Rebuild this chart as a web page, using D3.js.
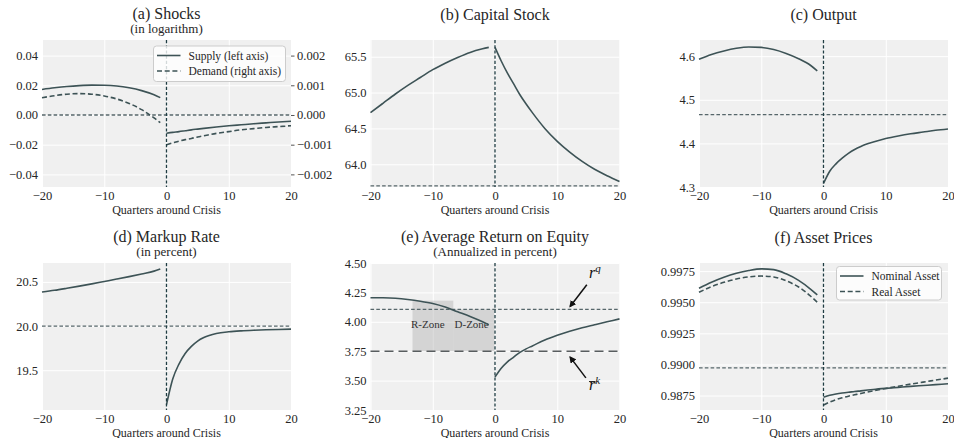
<!DOCTYPE html>
<html>
<head>
<meta charset="utf-8">
<script src="https://cdn.jsdelivr.net/npm/d3@7"></script>
<style>
  html, body { margin: 0; padding: 0; background: #ffffff; }
  svg { display: block; }
</style>
</head>
<body>
<svg id="fig" width="954" height="438"></svg>
<script>
// ---------------------------------------------------------------
// Data: quarters around the crisis (pre-crisis path and post-crisis path)
// ---------------------------------------------------------------
const preQ  = [-20, -18, -16, -14, -12, -10, -8, -6, -4, -2, -1];
const postQ = [0, 1, 2, 3, 4, 5, 6, 8, 10, 12, 14, 16, 18, 20];
const xTicks = [-20, -10, 0, 10, 20];

// (a) Shocks, in logarithm
const supplyPre   = [0.0172, 0.0183, 0.0192, 0.0198, 0.0201, 0.0200, 0.0195, 0.0183, 0.0164, 0.0136, 0.0117];
const supplyPost  = [-0.0123, -0.0117, -0.0112, -0.0106, -0.0100, -0.0095, -0.0090, -0.0081, -0.0073, -0.0066, -0.0059, -0.0053, -0.0047, -0.0042];
const demandPre   = [0.00058, 0.00065, 0.00070, 0.00072, 0.00070, 0.00064, 0.00054, 0.00039, 0.00018, -0.00010, -0.00026];
const demandPost  = [-0.00100, -0.00094, -0.00088, -0.00083, -0.00079, -0.00074, -0.00070, -0.00062, -0.00056, -0.00050, -0.00046, -0.00042, -0.00039, -0.00036];
const shockLeftTicks  = [-0.04, -0.02, 0, 0.02, 0.04];
const shockRightTicks = [-0.002, -0.001, 0, 0.001, 0.002];
const shockLegend = ["Supply (left axis)", "Demand (right axis)"];

// (b) Capital stock
const capitalPre  = [64.72, 64.85, 64.98, 65.10, 65.21, 65.32, 65.41, 65.49, 65.56, 65.61, 65.63];
const capitalPost = [65.63, 65.44, 65.27, 65.12, 64.97, 64.84, 64.72, 64.50, 64.32, 64.17, 64.04, 63.93, 63.84, 63.76];
const capitalSS   = 63.70;
const capitalTicks = [64.0, 64.5, 65.0, 65.5];

// (c) Output
const outputPre  = [4.593, 4.604, 4.612, 4.618, 4.621, 4.620, 4.615, 4.606, 4.594, 4.578, 4.566];
const outputPost = [4.308, 4.336, 4.353, 4.366, 4.377, 4.386, 4.393, 4.403, 4.411, 4.417, 4.422, 4.426, 4.430, 4.433];
const outputSS   = 4.466;
const outputTicks = [4.3, 4.4, 4.5, 4.6];

// (d) Markup rate, in percent
const markupPre  = [20.385, 20.405, 20.428, 20.452, 20.478, 20.505, 20.532, 20.560, 20.590, 20.622, 20.645];
const markupPost = [19.11, 19.40, 19.57, 19.69, 19.77, 19.83, 19.87, 19.915, 19.935, 19.946, 19.953, 19.958, 19.962, 19.965];
const markupSS   = 20.0;
const markupTicks = [19.5, 20.0, 20.5];

// (e) Average return on equity, annualized in percent
const roePre  = [4.205, 4.204, 4.200, 4.190, 4.175, 4.155, 4.125, 4.085, 4.045, 4.000, 3.975];
const roePost = [3.53, 3.605, 3.66, 3.70, 3.74, 3.77, 3.795, 3.845, 3.885, 3.92, 3.95, 3.975, 4.00, 4.025];
const rq = 4.105;
const rk = 3.75;
const roeTicks = [3.25, 3.50, 3.75, 4.00, 4.25, 4.50];
const zoneNames = ["R-Zone", "D-Zone"];
const zoneStart = [-13.25, -6.7];
const zoneEnd   = [-6.7, -0.15];
const zoneTop   = [4.18, rq];
const zoneLabelX = [-10.8, -3.75];

// (f) Asset prices
const nominalPre  = [0.99612, 0.99660, 0.99700, 0.99732, 0.99755, 0.99768, 0.99762, 0.99728, 0.99675, 0.99602, 0.99559];
const nominalPost = [0.98736, 0.98752, 0.98763, 0.98771, 0.98777, 0.98782, 0.98788, 0.98799, 0.98808, 0.98816, 0.98824, 0.98831, 0.98838, 0.98845];
const realPre     = [0.99580, 0.99625, 0.99660, 0.99686, 0.99703, 0.99710, 0.99703, 0.99672, 0.99622, 0.99546, 0.99500];
const realPost    = [0.98674, 0.98698, 0.98717, 0.98732, 0.98745, 0.98756, 0.98767, 0.98788, 0.98807, 0.98825, 0.98842, 0.98858, 0.98874, 0.98890];
const assetSS     = 0.98972;
const assetTicks  = [0.9875, 0.9900, 0.9925, 0.9950, 0.9975];
const assetLegend = ["Nominal Asset", "Real Asset"];

// ---------------------------------------------------------------
// Styling and layout
// ---------------------------------------------------------------
const SERIF = "'Liberation Serif', 'DejaVu Serif', serif";
const PW = 249, PH = 147;
const LINE = "#3d5356";
const REF = "#56666a";
const VREF = "#1f3c42";
const BG = "#f0f0f0";
const TEXT = "#262626";

const svg = d3.select("#fig");
svg.append("rect").attr("width", 954).attr("height", 438).attr("fill", "#ffffff");

const defs = svg.append("defs");
defs.append("marker")
  .attr("id", "arrowHead")
  .attr("viewBox", "0 0 10 10")
  .attr("refX", 8).attr("refY", 5)
  .attr("markerWidth", 7).attr("markerHeight", 7)
  .attr("markerUnits", "userSpaceOnUse")
  .attr("orient", "auto")
  .append("path").attr("d", "M0,0 L10,5 L0,10 z").attr("fill", "#111");

function pts(xs, ys) { return xs.map((q, i) => [q, ys[i]]); }

function panel(left, top, yDomain, yTicks, yFmt) {
  const g = svg.append("g");
  const x = d3.scaleLinear().domain([-20, 20]).range([left, left + PW]);
  const y = d3.scaleLinear().domain(yDomain).range([top + PH, top]);

  g.append("rect").attr("x", left).attr("y", top).attr("width", PW).attr("height", PH).attr("fill", BG);

  // white grid
  g.append("g").attr("transform", `translate(0,${top + PH})`)
    .call(d3.axisBottom(x).tickValues(xTicks).tickSize(-PH).tickFormat(""))
    .call(a => { a.select(".domain").remove(); a.selectAll("line").attr("stroke", "#ffffff").attr("stroke-width", 1); });
  g.append("g").attr("transform", `translate(${left},0)`)
    .call(d3.axisLeft(y).tickValues(yTicks).tickSize(-PW).tickFormat(""))
    .call(a => { a.select(".domain").remove(); a.selectAll("line").attr("stroke", "#ffffff").attr("stroke-width", 1); });

  const layer = g.append("g");

  // tick labels
  g.append("g").attr("transform", `translate(0,${top + PH})`)
    .call(d3.axisBottom(x).tickValues(xTicks).tickSize(0).tickPadding(4).tickFormat(d3.format("d")))
    .attr("font-family", SERIF).attr("font-size", 12.5)
    .call(a => { a.select(".domain").remove(); a.selectAll("text").attr("fill", TEXT); });
  g.append("g").attr("transform", `translate(${left},0)`)
    .call(d3.axisLeft(y).tickValues(yTicks).tickSize(0).tickPadding(4).tickFormat(d3.format(yFmt)))
    .attr("font-family", SERIF).attr("font-size", 12.5)
    .call(a => { a.select(".domain").remove(); a.selectAll("text").attr("fill", TEXT); });

  // x-axis title
  g.append("text").attr("x", left + PW / 2).attr("y", top + PH + 26.5)
    .attr("text-anchor", "middle").attr("font-family", SERIF).attr("font-size", 12).attr("fill", TEXT)
    .text("Quarters around Crisis");

  return { g: layer, x, y, left, top };
}

function title(p, main, sub) {
  const cx = p.left + PW / 2;
  if (sub) {
    svg.append("text").attr("x", cx).attr("y", p.top - 21.5).attr("text-anchor", "middle")
      .attr("font-family", SERIF).attr("font-size", 16).attr("fill", TEXT).text(main);
    svg.append("text").attr("x", cx).attr("y", p.top - 7).attr("text-anchor", "middle")
      .attr("font-family", SERIF).attr("font-size", 13).attr("fill", TEXT).text(sub);
  } else {
    svg.append("text").attr("x", cx).attr("y", p.top - 20).attr("text-anchor", "middle")
      .attr("font-family", SERIF).attr("font-size", 16).attr("fill", TEXT).text(main);
  }
}

function curve(p, data, yScale, dash) {
  const ys = yScale || p.y;
  const line = d3.line().x(d => p.x(d[0])).y(d => ys(d[1])).curve(d3.curveMonotoneX);
  p.g.append("path").datum(data).attr("d", line)
    .attr("fill", "none").attr("stroke", LINE).attr("stroke-width", 1.6)
    .attr("stroke-dasharray", dash || null).attr("stroke-linecap", "butt");
}

function hRef(p, v, opts) {
  const o = opts || {};
  p.g.append("line")
    .attr("x1", p.x(-20)).attr("x2", p.x(20)).attr("y1", p.y(v)).attr("y2", p.y(v))
    .attr("stroke", o.color || REF).attr("stroke-width", o.width || 1.3)
    .attr("stroke-dasharray", o.dash || "3.6,2.2");
}

function vRef(p) {
  p.g.append("line")
    .attr("x1", p.x(0)).attr("x2", p.x(0)).attr("y1", p.top).attr("y2", p.top + PH)
    .attr("stroke", VREF).attr("stroke-width", 1.3).attr("stroke-dasharray", "3.2,2");
}

function legend(p, bx, by, bw, bh, labels) {
  const lg = svg.append("g");
  lg.append("rect").attr("x", bx).attr("y", by).attr("width", bw).attr("height", bh).attr("rx", 3)
    .attr("fill", "#ffffff").attr("fill-opacity", 0.8).attr("stroke", "#cccccc").attr("stroke-width", 1);
  labels.forEach((lab, i) => {
    const yy = by + 9.5 + i * 15.5;
    lg.append("line").attr("x1", bx + 3.5).attr("x2", bx + 27).attr("y1", yy).attr("y2", yy)
      .attr("stroke", LINE).attr("stroke-width", 1.6).attr("stroke-dasharray", i === 1 ? "5,2.7" : null);
    lg.append("text").attr("x", bx + 35).attr("y", yy + 4)
      .attr("font-family", SERIF).attr("font-size", 11.5).attr("fill", TEXT).text(lab);
  });
}

const rowTop = [40, 263];
const colLeft = [42, 370.5, 699];

// ---------------------------------------------------------------
// (a) Shocks
// ---------------------------------------------------------------
{
  const p = panel(colLeft[0], rowTop[0], [-0.0485, 0.0505], shockLeftTicks, ".2f");
  const yR = d3.scaleLinear().domain([-0.0485 / 20, 0.0505 / 20]).range([p.top + PH, p.top]);
  hRef(p, 0);
  curve(p, pts(preQ, supplyPre));
  curve(p, pts(postQ, supplyPost));
  curve(p, pts(preQ, demandPre), yR, "5,2.7");
  curve(p, pts(postQ, demandPost), yR, "5,2.7");
  svg.append("g").attr("transform", `translate(${p.left + PW},0)`)
    .call(d3.axisRight(yR).tickValues(shockRightTicks).tickSize(3.5).tickPadding(2.5).tickFormat(d3.format(".3f")))
    .attr("font-family", SERIF).attr("font-size", 12.5)
    .call(a => { a.select(".domain").remove(); a.selectAll("line").attr("stroke", "#555"); a.selectAll("text").attr("fill", TEXT); });
  vRef(p);
  legend(p, p.left + 111.5, p.top + 6, 132, 35.5, shockLegend);
  title(p, "(a) Shocks", "(in logarithm)");
}

// ---------------------------------------------------------------
// (b) Capital Stock
// ---------------------------------------------------------------
{
  const p = panel(colLeft[1], rowTop[0], [63.683, 65.733], capitalTicks, ".1f");
  hRef(p, capitalSS);
  curve(p, pts(preQ, capitalPre));
  curve(p, pts(postQ, capitalPost));
  vRef(p);
  title(p, "(b) Capital Stock");
}

// ---------------------------------------------------------------
// (c) Output
// ---------------------------------------------------------------
{
  const p = panel(colLeft[2], rowTop[0], [4.3, 4.637], outputTicks, ".1f");
  hRef(p, outputSS);
  curve(p, pts(preQ, outputPre));
  curve(p, pts(postQ, outputPost));
  vRef(p);
  title(p, "(c) Output");
}

// ---------------------------------------------------------------
// (d) Markup Rate
// ---------------------------------------------------------------
{
  const p = panel(colLeft[0], rowTop[1], [19.05, 20.714], markupTicks, ".1f");
  hRef(p, markupSS);
  curve(p, pts(preQ, markupPre));
  curve(p, pts(postQ, markupPost));
  vRef(p);
  title(p, "(d) Markup Rate", "(in percent)");
}

// ---------------------------------------------------------------
// (e) Average Return on Equity
// ---------------------------------------------------------------
{
  const p = panel(colLeft[1], rowTop[1], [3.25, 4.5], roeTicks, ".2f");
  zoneNames.forEach((name, i) => {
    p.g.append("rect")
      .attr("x", p.x(zoneStart[i])).attr("width", p.x(zoneEnd[i]) - p.x(zoneStart[i]))
      .attr("y", p.y(zoneTop[i])).attr("height", p.y(rk) - p.y(zoneTop[i]))
      .attr("fill", "#aaaaaa").attr("fill-opacity", 0.4);
    p.g.append("text").attr("x", p.x(zoneLabelX[i])).attr("y", p.y(3.946))
      .attr("text-anchor", "middle").attr("font-family", SERIF).attr("font-size", 11).attr("fill", "#333")
      .text(name);
  });
  hRef(p, rq);
  hRef(p, rk, { dash: "9,5", width: 1.6, color: "#585d5f" });
  curve(p, pts(preQ, roePre));
  curve(p, pts(postQ, roePost));
  vRef(p);

  // arrows pointing at the two reference returns
  p.g.append("line").attr("x1", p.x(14.75)).attr("y1", p.y(4.315)).attr("x2", p.x(12.07)).attr("y2", p.y(4.13))
    .attr("stroke", "#111").attr("stroke-width", 1.5).attr("marker-end", "url(#arrowHead)");
  p.g.append("line").attr("x1", p.x(14.6)).attr("y1", p.y(3.523)).attr("x2", p.x(12.07)).attr("y2", p.y(3.70))
    .attr("stroke", "#111").attr("stroke-width", 1.5).attr("marker-end", "url(#arrowHead)");

  const tq = p.g.append("text").attr("x", p.x(15.1)).attr("y", p.y(4.375))
    .attr("font-family", SERIF).attr("font-style", "italic").attr("font-size", 16).attr("fill", "#111");
  tq.append("tspan").text("r");
  tq.append("tspan").attr("dy", -6).attr("font-size", 11).text("q");

  const rx = p.x(15.1), ry = p.y(3.42);
  const tk = p.g.append("text").attr("x", rx).attr("y", ry)
    .attr("font-family", SERIF).attr("font-style", "italic").attr("font-size", 16).attr("fill", "#111");
  tk.append("tspan").text("r");
  tk.append("tspan").attr("dy", -6).attr("font-size", 11).text("k");
  p.g.append("line").attr("x1", rx).attr("x2", rx + 6.5).attr("y1", ry - 8.5).attr("y2", ry - 8.5)
    .attr("stroke", "#111").attr("stroke-width", 0.9);

  title(p, "(e) Average Return on Equity", "(Annualized in percent)");
}

// ---------------------------------------------------------------
// (f) Asset Prices
// ---------------------------------------------------------------
{
  const p = panel(colLeft[2], rowTop[1], [0.98634, 0.99815], assetTicks, ".4f");
  hRef(p, assetSS);
  curve(p, pts(preQ, nominalPre));
  curve(p, pts(postQ, nominalPost));
  curve(p, pts(preQ, realPre), null, "5,2.7");
  curve(p, pts(postQ, realPost), null, "5,2.7");
  vRef(p);
  legend(p, p.left + 137.5, p.top + 3.5, 105, 33.5, assetLegend);
  title(p, "(f) Asset Prices");
}
</script>
</body>
</html>
